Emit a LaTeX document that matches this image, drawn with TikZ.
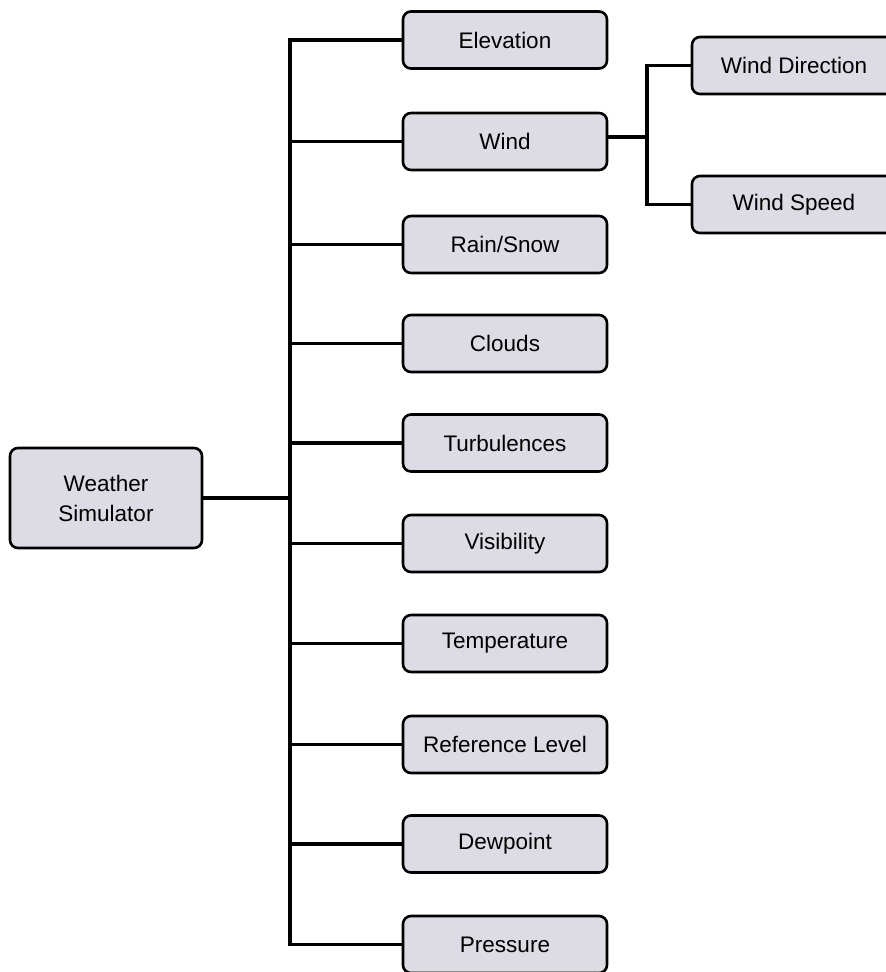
\documentclass[tikz,border=0pt]{standalone}
\usepackage{fontspec}
\setmainfont{Liberation Sans}
\begin{document}
\definecolor{boxfill}{RGB}{221,219,227}
\begin{tikzpicture}[x=1pt,y=-1pt,
  item/.style={draw=black, line width=2.6pt, fill=boxfill, rounded corners=8pt,
    minimum width=204pt, minimum height=57pt, inner sep=0pt, align=center,
    font=\fontsize{22.5}{30}\selectfont},
  rootbox/.style={item, minimum width=192pt, minimum height=100pt},
  link/.style={line width=3.3pt, line join=miter}]
\clip (0,0) rectangle (886,972);

% root node
\node[rootbox] (root) at (106,498) {Weather\\Simulator};

% first-level items
\node[item] (elev)  at (505,40)    {Elevation};
\node[item] (wind)  at (505,141.5) {Wind};
\node[item] (rain)  at (505,244.5) {Rain/Snow};
\node[item] (cloud) at (505,343.5) {Clouds};
\node[item] (turb)  at (505,443)   {Turbulences};
\node[item] (vis)   at (505,543.5) {Visibility};
\node[item] (temp)  at (505,643.5) {Temperature};
\node[item] (ref)   at (505,744.5) {Reference Level};
\node[item] (dew)   at (505,844)   {Dewpoint};
\node[item] (pres)  at (505,944.5) {Pressure};

% second-level items under Wind
\node[item] (wdir) at (794,65.5)  {Wind Direction};
\node[item] (wspd) at (794,204.5) {Wind Speed};

% trunk from the root
\coordinate (jn) at (290,498);
\draw[link] (root.east) -- (jn);
\draw[link] (elev.west) -- (jn |- elev.west) -- (jn |- pres.west) -- (pres.west);
\foreach \n in {wind,rain,cloud,turb,vis,temp,ref,dew}
  \draw[link] (jn |- \n.west) -- (\n.west);

% branch from Wind
\coordinate (wj) at (647,137);
\draw[link] (wind.east |- wj) -- (wj);
\draw[link] (wdir.west) -- (wj |- wdir.west) -- (wj |- wspd.west) -- (wspd.west);
\end{tikzpicture}
\end{document}
